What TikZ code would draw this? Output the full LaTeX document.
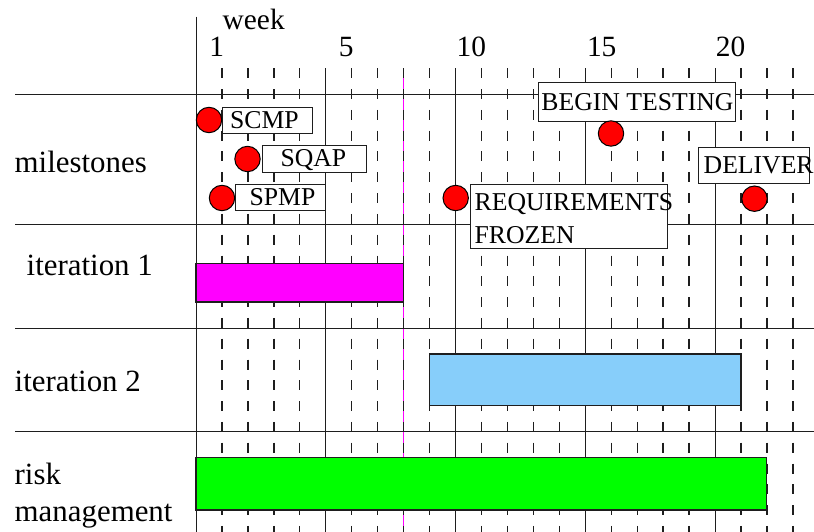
\documentclass[tikz,border=0pt]{standalone}
\usepackage{fontspec}
\setmainfont{Liberation Serif}
\definecolor{barblue}{RGB}{135,206,250}
\definecolor{barmagenta}{RGB}{255,0,255}
\definecolor{bargreen}{RGB}{0,255,0}
\definecolor{dotred}{RGB}{255,0,0}
\definecolor{linegray}{RGB}{30,30,30}
\begin{document}
\begin{tikzpicture}[x=1bp,y=-1bp,
  gridsolid/.style={line width=0.9bp, linegray},
  griddash/.style={line width=1.3bp, linegray, dash pattern=on 10bp off 10.8bp},
  rowline/.style={line width=1bp, linegray},
  bar/.style={draw=linegray, line width=1.1bp},
  tag/.style={draw=linegray, fill=white, line width=1bp},
  tagtext/.style={font=\fontsize{25.8}{31}\selectfont, inner sep=0pt},
  toplabel/.style={font=\fontsize{29.5}{35}\selectfont, inner sep=0pt},
  rowlabel/.style={font=\fontsize{31}{37}\selectfont, inner sep=0pt, anchor=base west},
  milestone/.style={circle, draw=black, fill=dotred, line width=1bp, minimum size=25.4bp, inner sep=0pt}
]
\useasboundingbox (0,0) rectangle (814,532);

% one week per column
\def\wk{25.95}

% current-week marker
\draw[barmagenta, line width=1.2bp] (196+8*\wk,68.3) -- (196+8*\wk,532);

% dashed week lines
\foreach \k in {1,2,3,4,6,7,8,9,11,12,13,14,16,17,18,19,21,22,23}{
  \pgfmathsetmacro\xx{196+\wk*\k}
  \draw[griddash] (\xx,68.3) -- (\xx,532);
}
% solid lines every five weeks
\foreach \k in {5,10,15,20}{
  \pgfmathsetmacro\xx{196+\wk*\k}
  \draw[gridsolid] (\xx,68.3) -- (\xx,532);
}
\draw[gridsolid] (196,16.7) -- (196,532);

% row separators
\foreach \yy in {94.3,224.3,328.3,431.7}
  \draw[rowline] (15,\yy) -- (814,\yy);

% axis labels
\node[toplabel, anchor=base west] (week) at (222.5,30) {week};
\node[toplabel, anchor=base] (w1) at (216.7,56.7) {1};
\node[toplabel, anchor=base] (w5) at (346.3,56.7) {5};
\node[toplabel, anchor=base] (w10) at (471.3,56.7) {10};
\node[toplabel, anchor=base] (w15) at (601.7,56.7) {15};
\node[toplabel, anchor=base] (w20) at (730.5,56.7) {20};

% row labels
\node[rowlabel] (lmile) at (14.5,172.7) {milestones};
\node[rowlabel] (lit1) at (26.5,275.7) {iteration 1};
\node[rowlabel] (lit2) at (14.5,391.7) {iteration 2};
\node[rowlabel] (lrisk) at (14.5,484) {risk};
\node[rowlabel] (lmgmt) at (14.5,521.7) {management};

% activity bars
\draw[bar, fill=barmagenta] (196,263.3) rectangle (196+8*\wk,302);
\draw[bar, fill=barblue] (196+9*\wk,354) rectangle (196+21*\wk,405.7);
\draw[bar, fill=bargreen] (196,457.7) rectangle (196+22*\wk,510);

% milestone tags
\draw[tag] (222,107.3) rectangle (312.7,133.3);
\node[tagtext, anchor=base] (tscmp) at (264.5,128.3) {SCMP};
\draw[tag] (262,146) rectangle (366,172.3);
\node[tagtext, anchor=base] (tsqap) at (313.4,166.7) {SQAP};
\draw[tag] (235,185) rectangle (325.7,211);
\node[tagtext, anchor=base] (tspmp) at (282.5,206) {SPMP};
\draw[tag] (470.7,185) rectangle (667.3,249);
\node[tagtext, anchor=base west] (treq) at (474.5,210.7) {REQUIREMENTS};
\node[tagtext, anchor=base west] (tfroz) at (474.5,244) {FROZEN};
\draw[tag] (538.3,82.3) rectangle (735.7,121.7);
\node[tagtext, anchor=base west] (ttest) at (541.2,110.7) {BEGIN TESTING};
\draw[tag] (698.3,147.3) rectangle (809,184);
\node[tagtext, anchor=base west] (tdel) at (703.5,173.3) {DELIVER};

% milestone markers
\node[milestone] (mscmp) at (209,120) {};
\node[milestone] (msqap) at (247.5,159) {};
\node[milestone] (mspmp) at (222,198) {};
\node[milestone] (mreq) at (455.7,198) {};
\node[milestone] (mtest) at (611,133.5) {};
\node[milestone] (mdel) at (754.5,198.7) {};
\end{tikzpicture}
\end{document}
